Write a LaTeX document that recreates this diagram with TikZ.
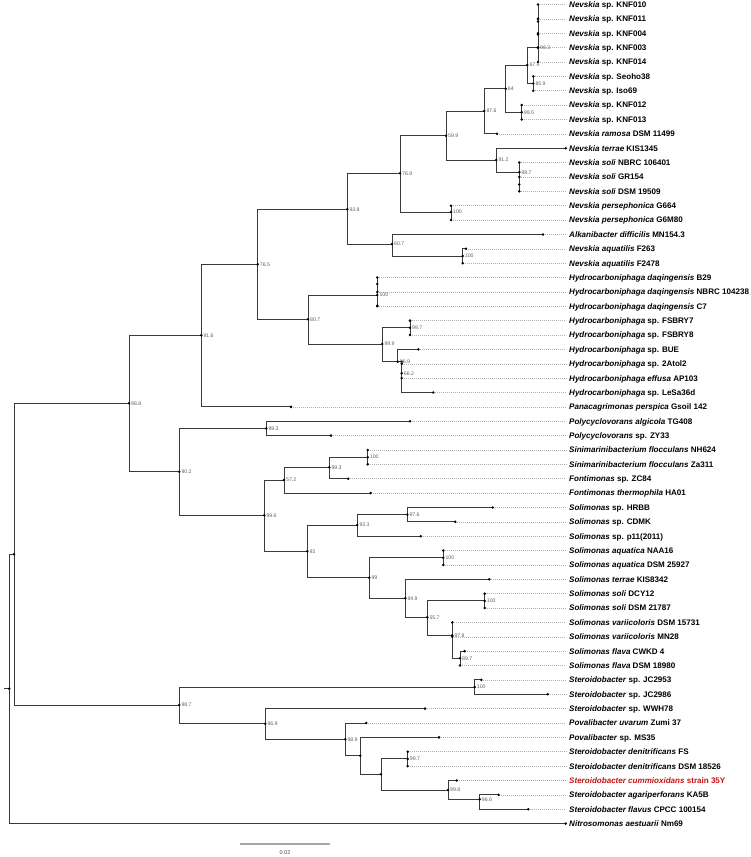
\documentclass[tikz,border=0pt]{standalone}
\usepackage{fontspec}
\setmainfont{Liberation Sans}
\definecolor{brc}{RGB}{58,58,58}
\definecolor{labred}{RGB}{200,20,20}
\begin{document}
\begin{tikzpicture}[x=1pt,y=-1pt,
  br/.style={draw=brc,line width=0.9pt},
  lead/.style={draw=gray!60,line width=0.5pt,dash pattern=on 0.8pt off 1.2pt},
  leadred/.style={draw=labred!50,line width=0.5pt,dash pattern=on 0.8pt off 1.2pt},
  lab/.style={font=\fontsize{8.05}{9}\selectfont\bfseries,anchor=base west,inner xsep=3pt,inner ysep=0pt},
  bs/.style={font=\fontsize{5.2}{6}\selectfont,text=gray!75!black,anchor=west,inner sep=0pt,xshift=2pt},
  dotc/.style={fill=black}]
\useasboundingbox (0,0) rectangle (750,857);
% leaf tips
\foreach \x [count=\i] in {538,538,538,538,538,533.3,533.3,521.7,521.7,497,
 565.7,519.3,519.3,519.3,451,451,543,466,462.7,377.3,
 377.3,377.3,410,410,418.3,401.7,401.7,433.3,291,410,
 331,367.7,367.7,348.3,370.7,492.7,455.3,420.7,443.3,443.3,
 489.3,484.7,484.7,452.3,452.3,464.7,460,481.3,547.7,425,
 366.3,439,407.7,407.7,456.7,498.7,528.3,565.7}
{ \pgfmathsetmacro\yy{4.5+(\i-1)*14.37}
  \coordinate (t\i) at (\x,\yy); }
% internal nodes
\coordinate (K96) at (538,47.61);
\coordinate (n674) at (527.3,65);
\coordinate (n859) at (533.3,83.5);
\coordinate (n64) at (505.7,88.7);
\coordinate (n995) at (521.7,112.3);
\coordinate (n876) at (484.3,111);
\coordinate (n599) at (446,135.7);
\coordinate (n912) at (496.3,160);
\coordinate (n997) at (519.3,172.3);
\coordinate (n769) at (400,173.3);
\coordinate (na100) at (451,212);
\coordinate (n607) at (392,244);
\coordinate (nb100) at (462.7,256);
\coordinate (n938) at (347.3,209.3);
\coordinate (n765) at (257.7,264.3);
\coordinate (n807) at (308,319.3);
\coordinate (nc100) at (377.3,295);
\coordinate (n999) at (382.3,344);
\coordinate (n997b) at (410,327.8);
\coordinate (n969) at (397.7,361.7);
\coordinate (nm) at (401.7,361.7);
\coordinate (n662) at (401.7,373.3);
\coordinate (n916) at (201.3,335.3);
\coordinate (n988) at (129,403.3);
\coordinate (n902) at (179.3,471.7);
\coordinate (n993) at (266.3,428.4);
\coordinate (n996) at (264.3,515.3);
\coordinate (n572) at (284,480);
\coordinate (n993b) at (329.3,467.3);
\coordinate (nd100) at (367.7,457.2);
\coordinate (n93) at (307.3,551.3);
\coordinate (n933) at (357.3,525);
\coordinate (n976) at (407.3,514.6);
\coordinate (n99) at (369.3,577.7);
\coordinate (ne100) at (443.3,557.7);
\coordinate (n949) at (405.3,598.3);
\coordinate (n557) at (427.3,617.3);
\coordinate (nf100) at (484.7,600.9);
\coordinate (n978) at (452.3,635.3);
\coordinate (n897) at (460,658.3);
\coordinate (nIn) at (14,554.3);
\coordinate (root) at (9.3,688.7);
\coordinate (rstub) at (4,688.7);
\coordinate (n987) at (179.3,705);
\coordinate (ng100) at (474.7,687);
\coordinate (n969b) at (265.3,723.7);
\coordinate (n989) at (345.3,739.3);
\coordinate (nP) at (360.3,755.7);
\coordinate (nQ) at (381,774.3);
\coordinate (n997c) at (407.7,758.9);
\coordinate (n998) at (448,790);
\coordinate (n966) at (479.7,799.3);
% branches
\foreach \p/\c in {K96/t1,K96/t2,K96/t3,K96/t4,K96/t5,
 n674/K96,n674/n859,n859/t6,n859/t7,
 n64/n674,n64/n995,n995/t8,n995/t9,
 n876/n64,n876/t10,n599/n876,n599/n912,
 n912/t11,n912/n997,n997/t12,n997/t13,n997/t14,
 n769/n599,n769/na100,na100/t15,na100/t16,
 n607/t17,n607/nb100,nb100/t18,nb100/t19,
 n938/n769,n938/n607,n765/n938,n765/n807,
 n807/nc100,n807/n999,nc100/t20,nc100/t21,nc100/t22,
 n999/n997b,n999/n969,n997b/t23,n997b/t24,
 n969/t25,n969/nm,nm/t26,nm/n662,n662/t27,n662/t28,
 n916/n765,n916/t29,n988/n916,n988/n902,
 n902/n993,n902/n996,n993/t30,n993/t31,
 n996/n572,n996/n93,
 n572/n993b,n572/t35,n993b/nd100,n993b/t34,nd100/t32,nd100/t33,
 n93/n933,n93/n99,n933/n976,n933/t38,n976/t36,n976/t37,
 n99/ne100,n99/n949,ne100/t39,ne100/t40,
 n949/t41,n949/n557,n557/nf100,n557/n978,nf100/t42,nf100/t43,
 n978/t44,n978/t45,n978/n897,n897/t46,n897/t47,
 nIn/n988,nIn/n987,root/nIn,root/t58,
 n987/ng100,n987/n969b,ng100/t48,ng100/t49,
 n969b/t50,n969b/n989,n989/t51,n989/nP,nP/t52,nP/nQ,
 nQ/n997c,nQ/n998,n997c/t53,n997c/t54,n998/t55,n998/n966,n966/t56,n966/t57}
 { \draw[br] (\p) |- (\c); }
\draw[br] (rstub) -- (root);
% leaf labels
\foreach \txt [count=\i] in {
 {\textit{Nevskia} sp. KNF010},
 {\textit{Nevskia} sp. KNF011},
 {\textit{Nevskia} sp. KNF004},
 {\textit{Nevskia} sp. KNF003},
 {\textit{Nevskia} sp. KNF014},
 {\textit{Nevskia} sp. Seoho38},
 {\textit{Nevskia} sp. Iso69},
 {\textit{Nevskia} sp. KNF012},
 {\textit{Nevskia} sp. KNF013},
 {\textit{Nevskia ramosa} DSM 11499},
 {\textit{Nevskia terrae} KIS1345},
 {\textit{Nevskia soli} NBRC 106401},
 {\textit{Nevskia soli} GR154},
 {\textit{Nevskia soli} DSM 19509},
 {\textit{Nevskia persephonica} G664},
 {\textit{Nevskia persephonica} G6M80},
 {\textit{Alkanibacter difficilis} MN154.3},
 {\textit{Nevskia aquatilis} F263},
 {\textit{Nevskia aquatilis} F2478},
 {\textit{Hydrocarboniphaga daqingensis} B29},
 {\textit{Hydrocarboniphaga daqingensis} NBRC 104238},
 {\textit{Hydrocarboniphaga daqingensis} C7},
 {\textit{Hydrocarboniphaga} sp. FSBRY7},
 {\textit{Hydrocarboniphaga} sp. FSBRY8},
 {\textit{Hydrocarboniphaga} sp. BUE},
 {\textit{Hydrocarboniphaga} sp. 2Atol2},
 {\textit{Hydrocarboniphaga effusa} AP103},
 {\textit{Hydrocarboniphaga} sp. LeSa36d},
 {\textit{Panacagrimonas perspica} Gsoil 142},
 {\textit{Polycyclovorans algicola} TG408},
 {\textit{Polycyclovorans} sp. ZY33},
 {\textit{Sinimarinibacterium flocculans} NH624},
 {\textit{Sinimarinibacterium flocculans} Za311},
 {\textit{Fontimonas} sp. ZC84},
 {\textit{Fontimonas thermophila} HA01},
 {\textit{Solimonas} sp. HRBB},
 {\textit{Solimonas} sp. CDMK},
 {\textit{Solimonas} sp. p11(2011)},
 {\textit{Solimonas aquatica} NAA16},
 {\textit{Solimonas aquatica} DSM 25927},
 {\textit{Solimonas terrae} KIS8342},
 {\textit{Solimonas soli} DCY12},
 {\textit{Solimonas soli} DSM 21787},
 {\textit{Solimonas variicoloris} DSM 15731},
 {\textit{Solimonas variicoloris} MN28},
 {\textit{Solimonas flava} CWKD 4},
 {\textit{Solimonas flava} DSM 18980},
 {\textit{Steroidobacter} sp. JC2953},
 {\textit{Steroidobacter} sp. JC2986},
 {\textit{Steroidobacter} sp. WWH78},
 {\textit{Povalibacter uvarum} Zumi 37},
 {\textit{Povalibacter} sp. MS35},
 {\textit{Steroidobacter denitrificans} FS},
 {\textit{Steroidobacter denitrificans} DSM 18526},
 {\textcolor{labred}{\textit{Steroidobacter cummioxidans} strain 35Y}},
 {\textit{Steroidobacter agariperforans} KA5B},
 {\textit{Steroidobacter flavus} CPCC 100154},
 {\textit{Nitrosomonas aestuarii} Nm69}}
{ \pgfmathsetmacro\yy{4.5+(\i-1)*14.37+2.9}
  \node[lab] (L\i) at (566,\yy) {\txt}; }
% leaders
\foreach \i in {1,...,54,56,57,58} { \draw[lead] (t\i) -- (t\i -| L\i.west); }
\draw[leadred] (t55) -- (t55 -| L55.west);
% dots
\foreach \i in {1,...,58} { \fill[dotc] (t\i) circle (1.4pt); }
\foreach \n in {K96,n674,n859,n64,n995,n876,n599,n912,n997,n769,na100,n607,nb100,
 n938,n765,n807,nc100,n999,n997b,n969,nm,n662,n916,n988,n902,n993,n996,n572,n993b,
 nd100,n93,n933,n976,n99,ne100,n949,n557,nf100,n978,n897,nIn,root,n987,ng100,n969b,
 n989,nP,nQ,n997c,n998,n966}
 { \fill[dotc] (\n) circle (1.4pt); }
% extra dots on zero-length clusters
\foreach \yy in {21.5,34.5} { \fill[dotc] (538,\yy) circle (1.4pt); }
\foreach \yy in {184.5} { \fill[dotc] (519.3,\yy) circle (1.4pt); }
\foreach \yy in {284,305.7} { \fill[dotc] (377.3,\yy) circle (1.4pt); }
% bootstrap values
\foreach \n/\v in {K96/96.3,n674/67.4,n859/85.9,n64/64,n995/99.5,n876/87.6,n599/59.9,
 n912/91.2,n997/99.7,n769/76.9,na100/100,n607/60.7,nb100/100,n938/93.8,n765/76.5,
 n807/80.7,nc100/100,n999/99.9,n997b/99.7,n969/96.9,n662/66.2,n916/91.6,n988/98.8,
 n902/90.2,n993/99.3,n996/99.6,n572/57.2,n993b/99.3,nd100/100,n93/93,n933/93.3,
 n976/97.6,n99/99,ne100/100,n949/94.9,n557/55.7,nf100/100,n978/97.8,n897/89.7,
 n987/98.7,ng100/100,n969b/96.9,n989/98.9,n997c/99.7,n998/99.8,n966/96.6}
 { \node[bs] (b\n) at (\n) {\v}; }
% scale bar
\coordinate (sb1) at (240,844.3);
\coordinate (sb2) at (330,844.3);
\draw[draw=gray!70,line width=1.8pt] (sb1) -- (sb2);
\node[font=\fontsize{5.6}{6}\selectfont,text=gray!60!black,inner sep=0pt] (sbl) at (285,852.6) {0.02};
\end{tikzpicture}
\end{document}
